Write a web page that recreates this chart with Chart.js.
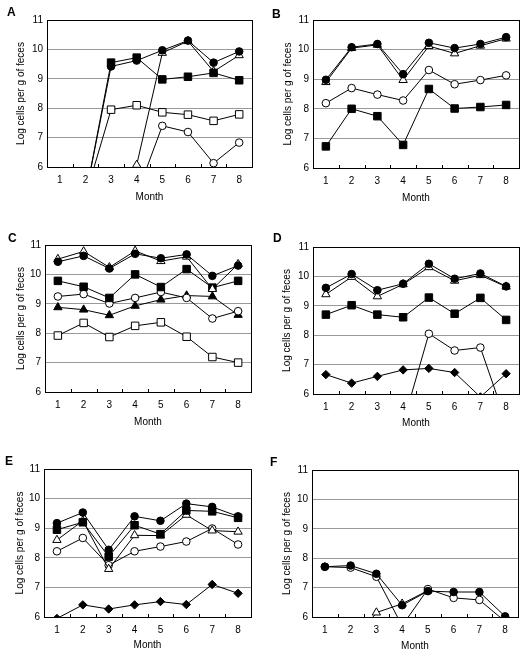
<!DOCTYPE html>
<html>
<head>
<meta charset="utf-8">
<script src="https://cdn.jsdelivr.net/npm/chart.js@4"></script>
<style>
    body { margin: 0; background: #fff; width: 527px; height: 655px; position: relative; overflow: hidden; font-family: "Liberation Sans", Arial, sans-serif; }
    canvas { position: absolute; }
    .letter { position: absolute; font-size: 12px; font-weight: bold; color: #000; }
</style>
</head>
<body>
<script>
// Month categories shared by every panel
const months = ['1', '2', '3', '4', '5', '6', '7', '8'];
const yTicks = [6, 7, 8, 9, 10, 11];

// Values below 6 sit under the detection floor and only show as lines leaving the axis
// Panel A
const aFilledCircle = [5, 5, 9.42, 9.62, 9.97, 10.3, 9.55, 9.93];
const aFilledSquare = [5, 5, 9.55, 9.72, 8.98, 9.07, 9.2, 8.95];
const aOpenTriangle = [5, 5, 5, 6.07, 9.88, 10.28, 9.25, 9.8];
const aOpenSquare = [5, 5, 7.95, 8.1, 7.86, 7.78, 7.57, 7.79];
const aOpenCircle = [5, 5, 5, 5.05, 7.4, 7.19, 6.13, 6.83];

// Panel B
const bFilledCircle = [8.98, 10.08, 10.19, 9.17, 10.23, 10.05, 10.19, 10.42];
const bOpenTriangle = [8.9, 10.05, 10.16, 8.97, 10.12, 9.87, 10.13, 10.37];
const bOpenCircle = [8.19, 8.7, 8.48, 8.28, 9.31, 8.83, 8.97, 9.13];
const bFilledSquare = [6.73, 8.0, 7.75, 6.78, 8.67, 8.01, 8.06, 8.13];

// Panel C
const cOpenTriangle = [10.52, 10.78, 10.24, 10.8, 10.45, 10.6, 9.5, 10.35];
const cFilledCircle = [10.43, 10.63, 10.2, 10.7, 10.55, 10.68, 9.95, 10.3];
const cFilledSquare = [9.78, 9.58, 9.2, 10.0, 9.57, 10.18, 9.55, 9.78];
const cOpenCircle = [9.25, 9.33, 9.01, 9.2, 9.4, 9.2, 8.5, 8.75];
const cFilledTriangle = [8.88, 8.8, 8.61, 8.93, 9.14, 9.28, 9.25, 8.62];
const cOpenSquare = [7.92, 8.35, 7.87, 8.25, 8.37, 7.88, 7.19, 7.0];

// Panel D
const dFilledCircle = [9.61, 10.08, 9.53, 9.75, 10.43, 9.92, 10.1, 9.66];
const dOpenTriangle = [9.39, 9.98, 9.32, 9.73, 10.31, 9.85, 10.04, 9.65];
const dFilledSquare = [8.7, 9.02, 8.7, 8.61, 9.28, 8.73, 9.27, 8.52];
const dOpenCircle = [5, 5, 5, 5.0, 8.05, 7.48, 7.58, 5.05];
const dFilledDiamond = [6.66, 6.37, 6.6, 6.82, 6.87, 6.73, 5.9, 6.69];

// Panel E
const eFilledCircle = [9.17, 9.53, 8.27, 9.4, 9.25, 9.83, 9.72, 9.4];
const eFilledSquare = [8.95, 9.2, 8.04, 9.1, 8.8, 9.6, 9.57, 9.35];
const eOpenTriangle = [8.6, 9.25, 7.62, 8.76, 8.75, 9.45, 8.92, 8.88];
const eOpenCircle = [8.22, 8.67, 7.75, 8.22, 8.38, 8.55, 8.99, 8.45];
const eFilledDiamond = [5.95, 6.41, 6.27, 6.41, 6.52, 6.42, 7.1, 6.8];

// Panel F
const fFilledCircle = [7.71, 7.75, 7.47, 6.4, 6.88, 6.85, 6.85, 6.02];
const fOpenCircle = [7.71, 7.68, 7.37, 5.7, 6.95, 6.65, 6.58, 5.85];
const fOpenTriangle = [null, 5, 6.15, 6.45, 6.9, null, null, null];

const FONT = '"Liberation Sans", Arial, sans-serif';

// Marker looks
const markers = {
    filledCircle: { pointStyle: 'circle', pointRadius: 3.8, pointBackgroundColor: '#000' },
    openCircle: { pointStyle: 'circle', pointRadius: 3.8, pointBackgroundColor: '#fff' },
    filledSquare: { pointStyle: 'rect', pointRadius: 5.3, pointBackgroundColor: '#000' },
    openSquare: { pointStyle: 'rect', pointRadius: 5.3, pointBackgroundColor: '#fff' },
    openTriangle: { pointStyle: 'triangle', pointRadius: 4.8, pointBackgroundColor: '#fff' },
    filledTriangle: { pointStyle: 'triangle', pointRadius: 4.8, pointBackgroundColor: '#000' },
    filledDiamond: { pointStyle: 'rectRot', pointRadius: 4.2, pointBackgroundColor: '#000' }
};

// Panel placement: canvas origin, height, plot box [left, top, right, bottom], "Month" centre, y title centre
const panels = [
    { letter: 'A', ox: 0, oy: 0, w: 264, h: 215, plot: [47, 20, 252, 167], monthY: 197, titleX: 21, lx: 7, ly: 5,
      series: [[aFilledCircle, 'filledCircle'], [aFilledSquare, 'filledSquare'], [aOpenTriangle, 'openTriangle'], [aOpenSquare, 'openSquare'], [aOpenCircle, 'openCircle']] },
    { letter: 'B', ox: 264, oy: 0, w: 263, h: 215, plot: [313, 20, 519, 168], monthY: 198, titleX: 288, lx: 272, ly: 7,
      series: [[bFilledCircle, 'filledCircle'], [bOpenTriangle, 'openTriangle'], [bOpenCircle, 'openCircle'], [bFilledSquare, 'filledSquare']] },
    { letter: 'C', ox: 0, oy: 215, w: 264, h: 220, plot: [45, 245, 251, 392], monthY: 422, titleX: 21, lx: 8, ly: 231,
      series: [[cFilledCircle, 'filledCircle'], [cOpenTriangle, 'openTriangle'], [cFilledSquare, 'filledSquare'], [cOpenCircle, 'openCircle'], [cFilledTriangle, 'filledTriangle'], [cOpenSquare, 'openSquare']] },
    { letter: 'D', ox: 264, oy: 215, w: 263, h: 220, plot: [313, 247, 519, 394], monthY: 423, titleX: 287, lx: 273, ly: 231,
      series: [[dFilledCircle, 'filledCircle'], [dOpenTriangle, 'openTriangle'], [dFilledSquare, 'filledSquare'], [dOpenCircle, 'openCircle'], [dFilledDiamond, 'filledDiamond']] },
    { letter: 'E', ox: 0, oy: 430, w: 264, h: 225, plot: [44, 469, 251, 617], monthY: 645, titleX: 20, lx: 5, ly: 454,
      series: [[eFilledCircle, 'filledCircle'], [eFilledSquare, 'filledSquare'], [eOpenTriangle, 'openTriangle'], [eOpenCircle, 'openCircle'], [eFilledDiamond, 'filledDiamond']] },
    { letter: 'F', ox: 264, oy: 430, w: 263, h: 225, plot: [312, 470, 518, 617], monthY: 646, titleX: 287, lx: 270, ly: 455,
      series: [[fFilledCircle, 'filledCircle'], [fOpenCircle, 'openCircle'], [fOpenTriangle, 'openTriangle']] }
];

// Black frame round the plot and short inward ticks between months
const framePlugin = {
    id: 'frame',
    afterDatasetsDraw(chart) {
        const { ctx, chartArea: a, scales: { x } } = chart;
        ctx.save();
        ctx.strokeStyle = '#000';
        ctx.lineWidth = 1;
        ctx.strokeRect(Math.round(a.left) + 0.5, Math.round(a.top) + 0.5,
            Math.round(a.right - a.left), Math.round(a.bottom - a.top));
        ctx.beginPath();
        for (let i = 0; i < months.length - 1; i++) {
            const px = Math.round((x.getPixelForValue(i) + x.getPixelForValue(i + 1)) / 2) + 0.5;
            ctx.moveTo(px, a.bottom);
            ctx.lineTo(px, a.bottom - 3);
        }
        ctx.stroke();
        ctx.restore();
    }
};

panels.forEach(p => {
    const [L, T, R, B] = p.plot;
    const padL = p.titleX - p.ox - 8;
    const yw = L - p.ox - padL;
    const padT = T - p.oy;
    const padR = p.ox + p.w - R;
    const axisBottom = p.monthY + 8;
    const xh = axisBottom - B;
    const padB = Math.max(0, p.oy + p.h - axisBottom);

    const canvas = document.createElement('canvas');
    canvas.width = p.w;
    canvas.height = p.h;
    canvas.style.left = p.ox + 'px';
    canvas.style.top = p.oy + 'px';
    document.body.appendChild(canvas);

    const letter = document.createElement('div');
    letter.className = 'letter';
    letter.textContent = p.letter;
    letter.style.left = p.lx + 'px';
    letter.style.top = p.ly + 'px';
    document.body.appendChild(letter);

    const datasets = p.series.map(([data, kind]) => Object.assign({
        data: data,
        borderColor: '#000',
        borderWidth: 1,
        pointBorderColor: '#000',
        pointBorderWidth: 1,
        spanGaps: false,
        clip: { left: 8, top: 8, right: 8, bottom: 0 }
    }, markers[kind]));

    new Chart(canvas.getContext('2d'), {
        type: 'line',
        data: { labels: months, datasets: datasets },
        options: {
            responsive: false,
            animation: false,
            layout: { padding: { left: padL, top: padT, right: padR, bottom: padB } },
            plugins: { legend: { display: false }, tooltip: { enabled: false } },
            scales: {
                x: {
                    type: 'category',
                    offset: true,
                    grid: { display: false, drawTicks: false },
                    border: { display: false },
                    ticks: { padding: 7, color: '#000', font: { size: 10, family: FONT } },
                    title: { display: true, text: 'Month', color: '#000', font: { size: 10, family: FONT }, padding: { top: 2, bottom: 2 } },
                    afterFit: s => { s.height = xh; }
                },
                y: {
                    min: yTicks[0],
                    max: yTicks[yTicks.length - 1],
                    afterBuildTicks: s => { s.ticks = yTicks.map(v => ({ value: v })); },
                    grid: { color: '#999', lineWidth: 1, drawTicks: false },
                    border: { display: false },
                    ticks: { padding: 4, color: '#000', font: { size: 10, family: FONT } },
                    title: { display: true, text: 'Log cells per g of feces', color: '#000', font: { size: 10, family: FONT }, padding: { top: 2, bottom: 2 } },
                    afterFit: s => { s.width = yw; }
                }
            }
        },
        plugins: [framePlugin]
    });
});
</script>
</body>
</html>
